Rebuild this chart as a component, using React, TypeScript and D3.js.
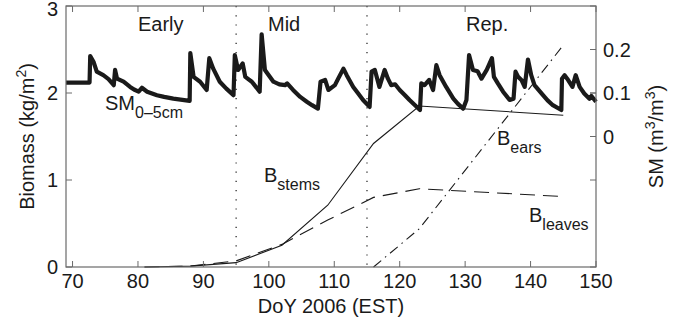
import React from 'react';
import { useRef, useEffect } from 'react';
import * as d3 from 'd3';

// soil moisture 0-5cm (right axis)
const smDays = [69.0, 72.6, 72.7, 73.2, 73.7, 74.7, 75.5, 76.3, 76.5, 76.8, 77.8, 78.8, 79.4, 80.1, 80.6, 81.4, 82.9, 84.0, 85.4, 87.9, 88.0, 88.5, 89.5, 90.5, 90.9, 91.5, 92.5, 93.5, 94.6, 94.8, 95.3, 96.0, 96.4, 97.4, 98.6, 98.9, 99.4, 100.7, 101.6, 102.5, 102.8, 103.7, 104.8, 105.8, 106.6, 107.5, 107.9, 108.6, 109.1, 110.1, 110.6, 111.4, 111.9, 112.9, 113.6, 114.4, 115.4, 115.7, 116.2, 116.9, 117.7, 118.2, 118.7, 119.3, 120.0, 120.8, 121.5, 123.1, 123.3, 123.8, 124.5, 125.1, 125.6, 126.1, 127.1, 128.2, 128.9, 129.7, 130.2, 130.6, 131.2, 131.9, 132.5, 133.3, 134.1, 134.4, 135.0, 135.8, 136.8, 137.4, 137.7, 138.1, 138.6, 139.1, 139.6, 140.1, 140.6, 141.9, 142.6, 143.4, 144.7, 144.8, 145.2, 145.6, 146.4, 146.9, 147.5, 148.2, 149.0, 149.3, 150.0];
const smValues = [0.124, 0.124, 0.185, 0.172, 0.149, 0.141, 0.132, 0.118, 0.153, 0.133, 0.126, 0.114, 0.108, 0.103, 0.112, 0.103, 0.095, 0.091, 0.087, 0.082, 0.192, 0.137, 0.126, 0.107, 0.18, 0.156, 0.126, 0.11, 0.095, 0.187, 0.153, 0.168, 0.137, 0.126, 0.103, 0.235, 0.153, 0.126, 0.12, 0.118, 0.122, 0.107, 0.091, 0.08, 0.072, 0.064, 0.126, 0.13, 0.107, 0.118, 0.133, 0.156, 0.141, 0.114, 0.1, 0.084, 0.068, 0.149, 0.153, 0.114, 0.153, 0.133, 0.118, 0.12, 0.107, 0.095, 0.084, 0.061, 0.122, 0.118, 0.13, 0.107, 0.164, 0.141, 0.114, 0.087, 0.075, 0.064, 0.084, 0.187, 0.153, 0.15, 0.133, 0.153, 0.18, 0.137, 0.122, 0.103, 0.084, 0.087, 0.149, 0.137, 0.13, 0.114, 0.177, 0.141, 0.118, 0.095, 0.083, 0.072, 0.061, 0.133, 0.141, 0.133, 0.114, 0.141, 0.114, 0.099, 0.087, 0.093, 0.08];

// biomass samples (left axis)
const sampleDays = [81, 88, 95, 102, 109, 116, 123, 145];
const stems = [0, 0.01, 0.05, 0.25, 0.71, 1.42, 1.85, 1.745];
const leaves = [0, 0.01, 0.07, 0.26, 0.54, 0.8, 0.9, 0.81];
const earDays = [116, 123, 145];
const ears = [0, 0.44, 2.55];

const stageDays = [95, 115];
const xTicks = [70, 80, 90, 100, 110, 120, 130, 140, 150];
const yTicks = [0, 1, 2, 3];
const smTicks = [0, 0.1, 0.2];

export default function App() {
  const svgRef = useRef(null);

  useEffect(() => {
    const w = 695;
    const h = 323;
    const left = 66;
    const right = 596;
    const top = 6;
    const bottom = 267;
    const font = '"Liberation Sans", Arial, Helvetica, sans-serif';
    const ink = '#1a1a1a';
    const axisColor = '#6a6a6a';
    const tl = 6;

    const svg = d3.select(svgRef.current).attr('width', w).attr('height', h);
    svg.selectAll('*').remove();

    const x = d3.scaleLinear().domain([69, 150]).range([left, right]);
    const y = d3.scaleLinear().domain([0, 3]).range([bottom, top]);
    const ySm = d3.scaleLinear().domain([-0.3, 0.3]).range([bottom, top]);

    // stage separators
    svg
      .selectAll('.stage')
      .data(stageDays)
      .join('line')
      .attr('x1', (d) => x(d))
      .attr('x2', (d) => x(d))
      .attr('y1', top)
      .attr('y2', bottom)
      .attr('stroke', ink)
      .attr('stroke-width', 1.2)
      .attr('stroke-dasharray', '1.2,8');

    //biomass lines
    const line = d3
      .line()
      .x((d) => x(d[0]))
      .y((d) => y(d[1]));

    svg
      .append('path')
      .attr('d', line(sampleDays.map((d, i) => [d, stems[i]])))
      .attr('fill', 'none')
      .attr('stroke', ink)
      .attr('stroke-width', 1.1);
    svg
      .append('path')
      .attr('d', line(sampleDays.map((d, i) => [d, leaves[i]])))
      .attr('fill', 'none')
      .attr('stroke', ink)
      .attr('stroke-width', 1.1)
      .attr('stroke-dasharray', '15,8');
    svg
      .append('path')
      .attr('d', line(earDays.map((d, i) => [d, ears[i]])))
      .attr('fill', 'none')
      .attr('stroke', ink)
      .attr('stroke-width', 1.1)
      .attr('stroke-dasharray', '10,5,1.5,5');

    // soil moisture
    const smLine = d3
      .line()
      .x((d) => x(d[0]))
      .y((d) => ySm(d[1]));
    svg
      .append('path')
      .attr('d', smLine(smDays.map((d, i) => [d, smValues[i]])))
      .attr('fill', 'none')
      .attr('stroke', ink)
      .attr('stroke-width', 4.2)
      .attr('stroke-linejoin', 'round');

    // frame
    svg
      .append('rect')
      .attr('x', left)
      .attr('y', top)
      .attr('width', right - left)
      .attr('height', bottom - top)
      .attr('fill', 'none')
      .attr('stroke', axisColor)
      .attr('stroke-width', 1.2);

    const ticks = svg.append('g').attr('stroke', axisColor).attr('stroke-width', 1);
    xTicks.forEach((t) => {
      ticks.append('line').attr('x1', x(t)).attr('x2', x(t)).attr('y1', bottom).attr('y2', bottom - tl);
      ticks.append('line').attr('x1', x(t)).attr('x2', x(t)).attr('y1', top).attr('y2', top + tl);
    });
    yTicks.forEach((t) => {
      ticks.append('line').attr('x1', left).attr('x2', left + tl).attr('y1', y(t)).attr('y2', y(t));
      ticks.append('line').attr('x1', right).attr('x2', right - tl).attr('y1', y(t)).attr('y2', y(t));
    });
    smTicks.forEach((t) => {
      ticks.append('line').attr('x1', right).attr('x2', right - tl).attr('y1', ySm(t)).attr('y2', ySm(t));
    });

    const txt = svg.append('g').attr('font-family', font).attr('fill', ink).attr('font-size', 20);

    txt
      .selectAll('.xt')
      .data(xTicks)
      .join('text')
      .attr('x', (d) => x(d))
      .attr('y', 288)
      .attr('text-anchor', 'middle')
      .text((d) => d);
    txt
      .selectAll('.yt')
      .data(yTicks)
      .join('text')
      .attr('x', left - 8)
      .attr('y', (d) => Math.max(y(d) + 7, 15.5))
      .attr('text-anchor', 'end')
      .text((d) => d);
    txt
      .selectAll('.st')
      .data(smTicks)
      .join('text')
      .attr('x', right + 7)
      .attr('y', (d) => ySm(d) + 7)
      .text((d) => (d === 0 ? '0' : d3.format('.1f')(d)));

    // axis titles
    txt
      .append('text')
      .attr('x', (left + right) / 2)
      .attr('y', 313)
      .attr('text-anchor', 'middle')
      .text('DoY 2006 (EST)');

    const yl = txt
      .append('text')
      .attr('transform', `translate(34, ${(top + bottom) / 2}) rotate(-90)`)
      .attr('text-anchor', 'middle');
    yl.append('tspan').text('Biomass (kg/m');
    yl.append('tspan').attr('font-size', 14).attr('dy', -8).text('2');
    yl.append('tspan').attr('dy', 8).text(')');

    const sl = txt
      .append('text')
      .attr('transform', `translate(663, ${(top + bottom) / 2}) rotate(-90)`)
      .attr('text-anchor', 'middle');
    sl.append('tspan').text('SM (m');
    sl.append('tspan').attr('font-size', 14).attr('dy', -8).text('3');
    sl.append('tspan').attr('dy', 8).text('/m');
    sl.append('tspan').attr('font-size', 14).attr('dy', -8).text('3');
    sl.append('tspan').attr('dy', 8).text(')');

    // stage labels
    txt.append('text').attr('x', 138).attr('y', 31).text('Early');
    txt.append('text').attr('x', 268).attr('y', 31).text('Mid');
    txt.append('text').attr('x', 466).attr('y', 31).text('Rep.');

    // series labels with subscripts
    const sub = (xPos, yPos, main, subText) => {
      const t = txt.append('text').attr('x', xPos).attr('y', yPos);
      t.append('tspan').text(main);
      t.append('tspan').attr('font-size', 16).attr('dy', 8).text(subText);
    };
    sub(105, 110, 'SM', '0\u20135cm');
    sub(264, 182, 'B', 'stems');
    sub(497, 145, 'B', 'ears');
    sub(529, 222, 'B', 'leaves');
  }, []);

  return (
    <div style={{ position: 'absolute', left: 0, top: 0 }}>
      <svg ref={svgRef} style={{ display: 'block', background: 'white' }}></svg>
    </div>
  );
}
